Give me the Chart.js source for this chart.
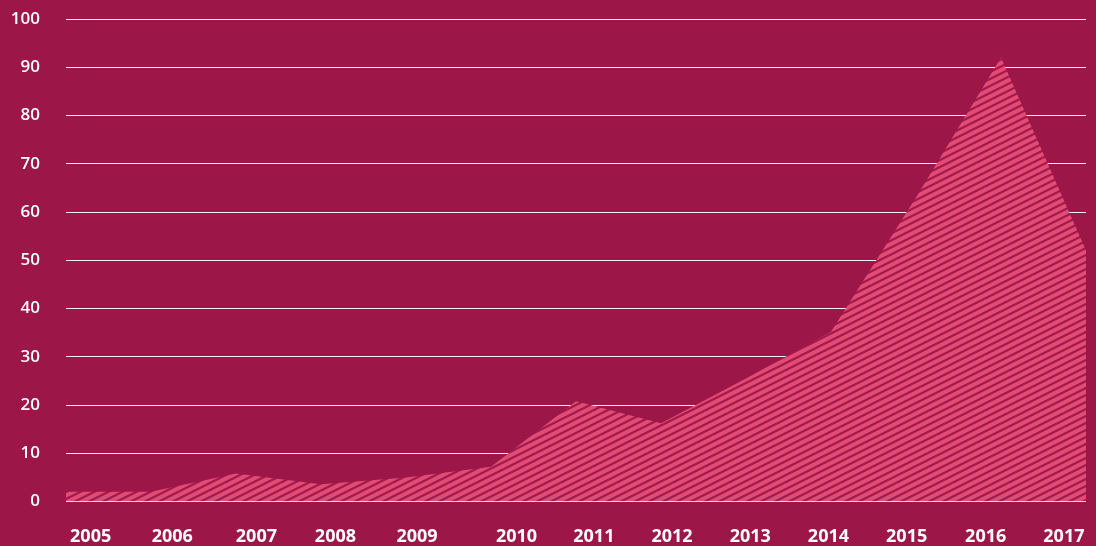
<!DOCTYPE html>
<html>
<head>
<meta charset="utf-8">
<script src="https://cdn.jsdelivr.net/npm/chart.js@4/dist/chart.umd.min.js"></script>
<style>
  html, body { margin: 0; padding: 0; background: #9c1747; }
  #wrap { width: 1096px; height: 546px; }
</style>
</head>
<body>
<div id="wrap"><canvas id="c" width="1096" height="546"></canvas></div>
<script>
// ---- data ----
const years = ['2005','2006','2007','2008','2009','2010','2011','2012','2013','2014','2015','2016','2017'];
const values = [2.0, 2.0, 5.8, 3.6, 5.0, 7.2, 20.8, 16.2, 25.5, 35.2, 63, 92, 52];
// where each year label sits along the data axis (data index units)
const yearLabelPositions = [0.29, 1.25, 2.24, 3.17, 4.13, 5.30, 6.21, 7.13, 8.05, 8.97, 9.89, 10.82, 11.74];
const yMin = 0, yMax = 100, yStep = 10;

// ---- hatch pattern ----
function makeHatch() {
  const w = 28, h = 14, period = 7;
  const t = document.createElement('canvas');
  t.width = w; t.height = h;
  const g = t.getContext('2d');
  g.fillStyle = '#e24b73';
  g.fillRect(0, 0, w, h);
  g.strokeStyle = '#a11b4e';
  g.lineWidth = 2.2;
  for (let c = -28; c <= 56; c += period) {
    g.beginPath();
    g.moveTo(-2, c + 1);
    g.lineTo(w + 2, c - (w + 2) * 0.5);
    g.stroke();
  }
  return g.createPattern(t, 'repeat');
}

const points = values.map((v, i) => ({ x: i, y: v }));

new Chart(document.getElementById('c'), {
  type: 'line',
  data: {
    datasets: [{
      data: points,
      fill: 'origin',
      backgroundColor: makeHatch(),
      borderWidth: 0,
      borderColor: 'rgba(0,0,0,0)',
      pointRadius: 0,
      tension: 0
    }]
  },
  options: {
    responsive: false,
    animation: false,
    events: [],
    layout: { padding: { top: 19, right: 10, left: 0, bottom: 0 } },
    plugins: { legend: { display: false }, tooltip: { enabled: false } },
    scales: {
      x: {
        type: 'linear',
        min: 0,
        max: years.length - 1,
        grid: { display: false, drawTicks: false },
        border: { display: false },
        afterBuildTicks: (axis) => { axis.ticks = yearLabelPositions.map(v => ({ value: v })); },
        afterFit: (axis) => { axis.height = 44.5; axis.paddingLeft = 0; axis.paddingRight = 0; },
        ticks: {
          autoSkip: false,
          maxRotation: 0,
          padding: 25,
          color: '#ffffff',
          font: { family: '"Open Sans", sans-serif', size: 18, weight: '700' },
          callback: (v, i) => years[i]
        }
      },
      y: {
        min: yMin,
        max: yMax,
        grid: { color: 'rgba(255,255,255,0.92)', lineWidth: 1, drawTicks: false },
        border: { display: false },
        afterFit: (axis) => { axis.width = 66; axis.paddingTop = 0; axis.paddingBottom = 0; },
        ticks: {
          stepSize: yStep,
          padding: 26,
          color: '#ffffff',
          font: { family: '"Open Sans", sans-serif', size: 17, weight: '600' }
        }
      }
    }
  }
});
</script>
</body>
</html>
